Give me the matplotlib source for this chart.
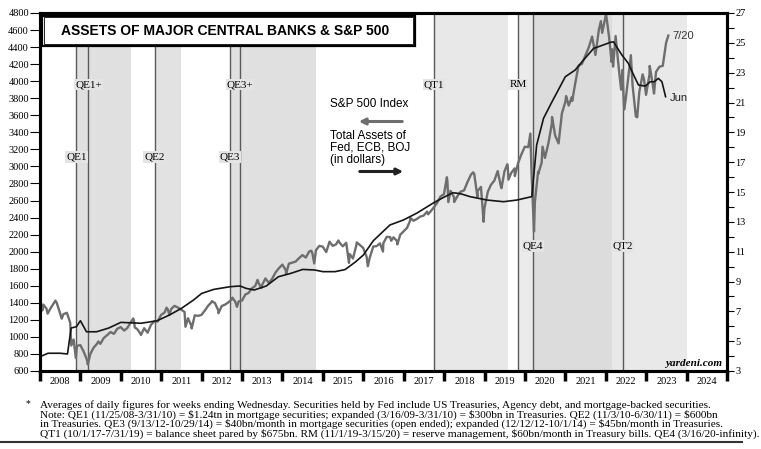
import matplotlib
matplotlib.use("Agg")
import matplotlib.pyplot as plt
import matplotlib.transforms as mtransforms
from matplotlib.patches import Rectangle, FancyArrowPatch
import numpy as np
import pandas as pd

W, H = 761, 449

# S&P 500 month-end closes, Jan 2008 .. Jun 2023
sp_monthly = [
    1379, 1331, 1323, 1386, 1400, 1280, 1267, 1283, 1166, 969, 896, 903,
    826, 735, 798, 873, 919, 919, 987, 1021, 1057, 1036, 1096, 1115,
    1074, 1104, 1169, 1187, 1089, 1031, 1102, 1049, 1141, 1183, 1181, 1258,
    1286, 1327, 1326, 1364, 1345, 1321, 1292, 1219, 1131, 1253, 1247, 1258,
    1312, 1366, 1408, 1398, 1310, 1362, 1379, 1407, 1441, 1412, 1416, 1426,
    1498, 1515, 1569, 1598, 1631, 1606, 1686, 1633, 1682, 1757, 1806, 1848,
    1783, 1859, 1872, 1884, 1924, 1960, 1931, 2003, 1972, 2018, 2068, 2059,
    1995, 2105, 2068, 2086, 2107, 2063, 2104, 1972, 1920, 2079, 2080, 2044,
    1940, 1932, 2060, 2065, 2097, 2099, 2174, 2171, 2168, 2126, 2199, 2239,
    2279, 2364, 2363, 2384, 2412, 2423, 2470, 2472, 2519, 2575, 2648, 2674,
    2824, 2714, 2641, 2648, 2705, 2718, 2816, 2902, 2914, 2712, 2760, 2507,
    2704, 2784, 2834, 2946, 2752, 2942, 2980, 2926, 2977, 3038, 3141, 3231,
    3226, 2954, 2585, 2912, 3044, 3100, 3271, 3500, 3363, 3270, 3622, 3756,
    3714, 3811, 3973, 4181, 4204, 4298, 4395, 4523, 4308, 4605, 4567, 4766,
    4516, 4374, 4530, 4132, 4132, 3785, 4130, 3955, 3586, 3872, 4080, 3840,
    4077, 3970, 4109, 4169, 4180, 4450,
]
# intra-month highs/lows visible on the weekly line
sp_extra_dates = [
    "2008-01-02", "2008-01-22", "2008-03-10", "2008-05-19", "2008-07-15",
    "2008-10-10", "2008-11-20", "2009-03-09", "2009-06-12", "2010-04-23",
    "2010-05-07", "2010-07-02", "2011-02-18", "2011-03-16", "2011-04-29",
    "2011-08-08", "2011-10-03", "2012-04-02", "2012-06-01", "2012-10-05",
    "2012-11-15", "2013-05-21", "2013-06-24", "2014-02-03", "2014-09-19",
    "2014-10-15", "2015-03-02", "2015-05-21", "2015-08-25", "2015-11-03",
    "2016-02-11", "2016-06-27", "2016-09-09", "2016-11-04", "2017-03-01",
    "2017-08-10", "2018-01-26", "2018-02-08", "2018-04-02", "2018-09-20",
    "2018-10-29", "2018-12-24", "2019-06-03", "2019-07-26", "2019-08-05",
    "2019-10-02", "2020-02-19", "2020-03-23", "2020-04-29", "2020-06-08",
    "2020-09-02", "2020-10-30", "2021-01-08", "2021-03-04", "2021-11-18",
    "2022-01-03", "2022-02-23", "2022-03-08", "2022-05-20", "2022-06-16",
    "2022-08-16", "2022-10-12", "2022-12-13", "2023-02-02", "2023-03-13",
    "2023-07-20",
]
sp_extra_vals = [
    1447, 1310, 1273, 1426, 1214,
    899, 752, 677, 946, 1217,
    1111, 1022, 1343, 1257, 1364,
    1119, 1099, 1419, 1278, 1461,
    1353, 1669, 1573, 1741, 2011,
    1862, 2117, 2131, 1868, 2109,
    1829, 2001, 2128, 2085, 2396,
    2438, 2873, 2581, 2582, 2931,
    2641, 2351, 2744, 3026, 2845,
    2887, 3386, 2237, 2939, 3232,
    3580, 3270, 3825, 3768, 4704,
    4797, 4226, 4171, 3901, 3667,
    4305, 3577, 4019, 4179, 3855,
    4535,
]

# Total assets of Fed + ECB + BOJ, trillion dollars
ta_years = [2008.0, 2008.2, 2008.5, 2008.68, 2008.77, 2008.9, 2009.0, 2009.15, 2009.4, 2009.7,
            2010.0, 2010.5, 2010.9, 2011.2, 2011.5, 2011.8, 2012.0, 2012.3, 2012.7, 2012.95,
            2013.1, 2013.3, 2013.6, 2013.9, 2014.2, 2014.5, 2014.8, 2015.0, 2015.3, 2015.55,
            2015.8, 2016.0, 2016.25, 2016.66, 2016.99, 2017.33, 2017.73, 2018.0, 2018.22, 2018.4,
            2018.64, 2019.06, 2019.47, 2019.8, 2020.17, 2020.29, 2020.46, 2020.67, 2021.0, 2021.24,
            2021.45, 2021.7, 2021.82, 2022.11, 2022.19, 2022.4, 2022.56, 2022.69, 2022.81, 2022.98,
            2023.1, 2023.2, 2023.3, 2023.39, 2023.48]
ta_vals = [3.96, 4.19, 4.19, 4.14, 5.88, 5.97, 6.37, 5.63, 5.63, 5.88,
           6.26, 6.2, 6.37, 6.75, 7.2, 7.76, 8.2, 8.47, 8.65, 8.7,
           8.54, 8.43, 8.7, 9.32, 9.54, 9.81, 9.77, 9.66, 9.66, 9.8,
           10.3, 10.77, 11.74, 12.79, 13.12, 13.59, 14.26, 14.66, 14.95, 14.89,
           14.69, 14.46, 14.35, 14.46, 14.69, 18.15, 19.94, 21.05, 22.73, 23.17,
           23.85, 24.63, 24.74, 25.03, 25.07, 24.18, 23.62, 22.84, 22.17, 22.1,
           22.39, 22.39, 22.62, 22.39, 21.39]

# policy programs
prog_names = ["QE1", "QE1+", "QE2", "QE3", "QE3+", "QT1", "RM", "QE4", "QT2"]
prog_start = [2008.9, 2009.2, 2010.84, 2012.7, 2012.95, 2017.75, 2019.83, 2020.2, 2022.42]
prog_label_row = [1, 0, 1, 1, 0, 0, 0, 2, 2]
shade_start = [2008.9, 2010.84, 2012.7, 2017.75, 2019.83, 2020.2, 2022.16]
shade_end = [2010.25, 2011.5, 2014.83, 2019.58, 2020.2, 2022.16, 2024.0]
shade_color = ["#e0e0e0", "#e2e2e2", "#e0e0e0", "#e8e8e8", "#ebebeb", "#dcdcdc", "#e9e9e9"]

years = list(range(2008, 2025))

footnote = [
    "Averages of daily figures for weeks ending Wednesday. Securities held by Fed include US Treasuries, Agency debt, and mortgage-backed securities.",
    "Note: QE1 (11/25/08-3/31/10) = $1.24tn in mortgage securities; expanded (3/16/09-3/31/10) = $300bn in Treasuries. QE2 (11/3/10-6/30/11) = $600bn",
    "in Treasuries. QE3 (9/13/12-10/29/14) = $40bn/month in mortgage securities (open ended); expanded (12/12/12-10/1/14) = $45bn/month in Treasuries.",
    "QT1 (10/1/17-7/31/19) = balance sheet pared by $675bn. RM (11/1/19-3/15/20) = reserve management, $60bn/month in Treasury bills. QE4 (3/16/20-infinity).",
]


def fx(px):
    return px / W


def fy(py):
    return 1 - py / H


def frac_year(d):
    d = pd.Timestamp(d)
    return d.year + (d.dayofyear - 1) / 365.25


month_ends = pd.date_range("2008-01-31", periods=len(sp_monthly), freq="ME")
sp = pd.Series(sp_monthly + sp_extra_vals,
               index=[frac_year(d) for d in month_ends] + [frac_year(d) for d in sp_extra_dates]).sort_index()

serif = "Liberation Serif"
sans = "Liberation Sans"

fig = plt.figure(figsize=(W / 100, H / 100), dpi=100)
ax = fig.add_axes([fx(40), fy(371), fx(727) - fx(40), fy(13) - fy(371)])
ax2 = ax.twinx()

for s, e, c in zip(shade_start, shade_end, shade_color):
    ax.axvspan(s, e, color=c, lw=0, zorder=0)

label_y = [0.80, 0.598, 0.349]
trans = mtransforms.blended_transform_factory(ax.transData, ax.transAxes)
for name, x, row in zip(prog_names, prog_start, prog_label_row):
    ax.axvline(x, color="#5a5a5a", lw=1.0, zorder=1)
    ax.text(x, label_y[row], name, transform=trans, ha="center", va="center",
            fontsize=8, family=serif, zorder=2,
            bbox=dict(boxstyle="square,pad=0.1", fc="#e4e4e4", ec="none"))

ax.plot(sp.index, sp.values, color="#6e6e6e", lw=1.7, zorder=3)
ax2.plot(ta_years, ta_vals, color="#161616", lw=1.2)

ax.set_xlim(2008, 2025)
ax.set_ylim(600, 4800)
ax2.set_ylim(3, 27)

ax.set_yticks(range(600, 4801, 200))
ax.tick_params(axis="y", direction="out", length=7, width=0.8, labelsize=7.5, pad=1)
ax2.set_yticks(range(3, 28, 2))
ax2.set_yticks(range(4, 27, 2), minor=True)
ax2.tick_params(axis="y", which="both", direction="out", length=5, width=0.8, labelsize=7.5, pad=1)

ax.set_xticks(years + [2025])
ax.set_xticklabels([])
ax.set_xticks([y + 0.5 for y in years], minor=True)
ax.set_xticklabels([str(y) for y in years], minor=True)
ax.tick_params(axis="x", which="major", direction="out", length=7, width=2.5)
ax.tick_params(axis="x", which="minor", length=0, labelsize=7.5, pad=4)

for a in (ax, ax2):
    for sp_name in a.spines:
        a.spines[sp_name].set_linewidth(2.2)
    for lab in a.get_xticklabels(which="both") + a.get_yticklabels():
        lab.set_family(serif)

# title box
fig.add_artist(Rectangle((fx(41.5), fy(45.5)), fx(415) - fx(41.5), fy(15.5) - fy(45.5),
                         transform=fig.transFigure, fc="white", ec="black", lw=1.6))
fig.add_artist(Rectangle((fx(43.5), fy(43.5)), fx(413) - fx(43.5), fy(17.5) - fy(43.5),
                         transform=fig.transFigure, fc="none", ec="black", lw=0.6))
fig.text(fx(61), fy(31), "ASSETS OF MAJOR CENTRAL BANKS & S&P 500", ha="left", va="center",
         fontsize=10, fontweight="bold", family=sans)

# legend-like annotation
fig.text(fx(330), fy(104), "S&P 500 Index", ha="left", va="center", fontsize=8.5, family=sans)
fig.add_artist(FancyArrowPatch((fx(405), fy(121.5)), (fx(356), fy(121.5)), transform=fig.transFigure,
                               arrowstyle="-|>", mutation_scale=9, lw=2.2, color="#6e6e6e"))
fig.text(fx(330), fy(148), "Total Assets of\nFed, ECB, BOJ\n(in dollars)", ha="left", va="center",
         fontsize=8.5, family=sans, linespacing=0.95)
fig.add_artist(FancyArrowPatch((fx(357), fy(171.5)), (fx(406), fy(171.5)), transform=fig.transFigure,
                               arrowstyle="-|>", mutation_scale=9, lw=2.2, color="#222222"))

fig.text(fx(672), fy(36), "7/20", ha="left", va="center", fontsize=8, family=sans, color="#333333")
fig.text(fx(670), fy(98), "Jun", ha="left", va="center", fontsize=8, family=sans, color="#222222")
fig.text(fx(722), fy(363), "yardeni.com", ha="right", va="center", fontsize=8,
         family=serif, fontweight="bold", style="italic")

# footnote
fig.text(fx(28), fy(404), "*", ha="center", va="center", fontsize=7, family=serif)
for i, line in enumerate(footnote):
    fig.text(fx(40), fy(405.5 + 9.4 * i), line, ha="left", va="center", fontsize=8.1,
             family=serif, parse_math=False)
fig.add_artist(plt.Line2D([0, fx(742)], [fy(441.5), fy(441.5)], transform=fig.transFigure,
                          color="#333333", lw=1.5))

fig.savefig("out.png", dpi=100)
